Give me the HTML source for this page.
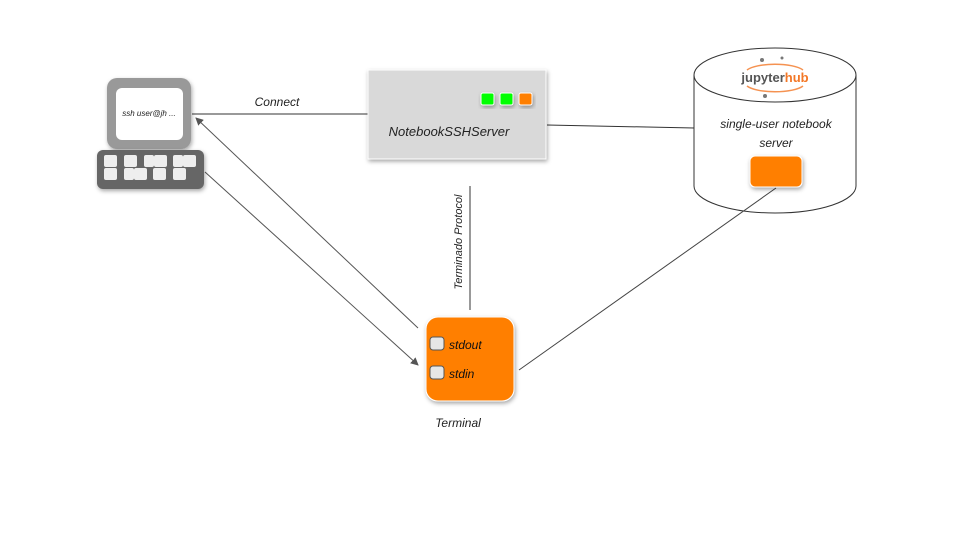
<!DOCTYPE html>
<html><head><meta charset="utf-8"><style>
body{margin:0;background:#fff;}
svg{display:block;font-family:"Liberation Sans",sans-serif;}
.h{font-style:italic;font-family:"Liberation Sans",sans-serif;}
</style></head><body>
<svg width="960" height="540" viewBox="0 0 960 540" xmlns="http://www.w3.org/2000/svg">
<defs>
<filter id="sh" x="-20%" y="-20%" width="150%" height="150%"><feDropShadow dx="1" dy="2" stdDeviation="2" flood-color="#000" flood-opacity="0.35"/></filter>
<marker id="ar" markerWidth="8" markerHeight="8" refX="7" refY="4" orient="auto" markerUnits="userSpaceOnUse"><path d="M0,0 L8,4 L0,8 z" fill="#555"/></marker>
</defs>
<!-- connectors -->
<line x1="192" y1="114" x2="368" y2="114" stroke="#333" stroke-width="1"/>
<line x1="547" y1="125" x2="694" y2="128" stroke="#333" stroke-width="1"/>
<line x1="470" y1="186" x2="470" y2="310" stroke="#333" stroke-width="1"/>
<line x1="418" y1="328" x2="196" y2="118" stroke="#555" stroke-width="1" marker-end="url(#ar)"/>
<line x1="205" y1="172" x2="418" y2="365" stroke="#555" stroke-width="1" marker-end="url(#ar)"/>
<!-- computer -->
<rect x="107" y="78" width="84" height="71" rx="10" fill="#999" filter="url(#sh)"/>
<rect x="116" y="88" width="67" height="52" rx="6" fill="#fff"/>
<text x="149" y="116" font-size="8" text-anchor="middle" class="h" fill="#222">ssh user@jh ...</text>
<rect x="97" y="150" width="107" height="39" rx="6" fill="#666" filter="url(#sh)"/>
<g fill="#eee">
<rect x="104" y="155" width="13" height="12" rx="2"/><rect x="124" y="155" width="13" height="12" rx="2"/><rect x="144" y="155" width="10" height="12" rx="2"/><rect x="154" y="155" width="13" height="12" rx="2"/><rect x="173" y="155" width="10" height="12" rx="2"/><rect x="183" y="155" width="13" height="12" rx="2"/>
<rect x="104" y="168" width="13" height="12" rx="2"/><rect x="124" y="168" width="10" height="12" rx="2"/><rect x="134" y="168" width="13" height="12" rx="2"/><rect x="153" y="168" width="13" height="12" rx="2"/><rect x="173" y="168" width="13" height="12" rx="2"/>
</g>
<text x="277" y="106" font-size="12" text-anchor="middle" class="h" fill="#222">Connect</text>
<!-- server box -->
<rect x="368" y="70" width="178" height="89" fill="#d9d9d9" stroke="#fff" stroke-width="1" filter="url(#sh)"/>
<rect x="481" y="93" width="13" height="12" rx="2" fill="#00ff00" stroke="#fff" filter="url(#sh)"/>
<rect x="500" y="93" width="13" height="12" rx="2" fill="#00ff00" stroke="#fff" filter="url(#sh)"/>
<rect x="519" y="93" width="13" height="12" rx="2" fill="#ff7f00" stroke="#fff" filter="url(#sh)"/>
<text x="449" y="136" font-size="13" text-anchor="middle" class="h" fill="#222">NotebookSSHServer</text>
<text transform="translate(462,242) rotate(-90)" font-size="11" text-anchor="middle" class="h" fill="#222">Terminado Protocol</text>
<!-- cylinder -->
<path d="M694,75 L694,186 A81,27 0 0 0 856,186 L856,75" fill="#fff" stroke="#333"/>
<ellipse cx="775" cy="75" rx="81" ry="27" fill="#fff" stroke="#333"/>
<path d="M747,70 A30,9 0 0 1 803,70" fill="none" stroke="#f37726" stroke-width="1.5" opacity="0.8"/>
<path d="M747,86 A30,9 0 0 0 803,86" fill="none" stroke="#f37726" stroke-width="1.5" opacity="0.8"/>
<text x="775" y="82" font-size="13" text-anchor="middle" fill="#555" font-weight="bold">jupyter<tspan fill="#f37726">hub</tspan></text>
<circle cx="762" cy="60" r="2" fill="#777"/><circle cx="782" cy="58" r="1.5" fill="#777"/><circle cx="765" cy="96" r="2" fill="#777"/>
<text x="776" y="128" font-size="12" text-anchor="middle" class="h" fill="#222">single-user notebook</text>
<text x="776" y="147" font-size="12" text-anchor="middle" class="h" fill="#222">server</text>
<line x1="519" y1="370" x2="776" y2="188" stroke="#444" stroke-width="1"/>
<rect x="750" y="156" width="52" height="31" rx="5" fill="#ff7f00" stroke="#fff" filter="url(#sh)"/>
<!-- terminal -->
<rect x="426" y="317" width="88" height="84" rx="12" fill="#ff7f00" stroke="#fff" filter="url(#sh)"/>
<rect x="430" y="337" width="14" height="13" rx="3" fill="#e6e6e6" stroke="#555"/>
<rect x="430" y="366" width="14" height="13" rx="3" fill="#e6e6e6" stroke="#555"/>
<text x="449" y="349" font-size="12" class="h" fill="#111">stdout</text>
<text x="449" y="378" font-size="12" class="h" fill="#111">stdin</text>
<text x="458" y="427" font-size="12" text-anchor="middle" class="h" fill="#222">Terminal</text>
</svg>
</body></html>
